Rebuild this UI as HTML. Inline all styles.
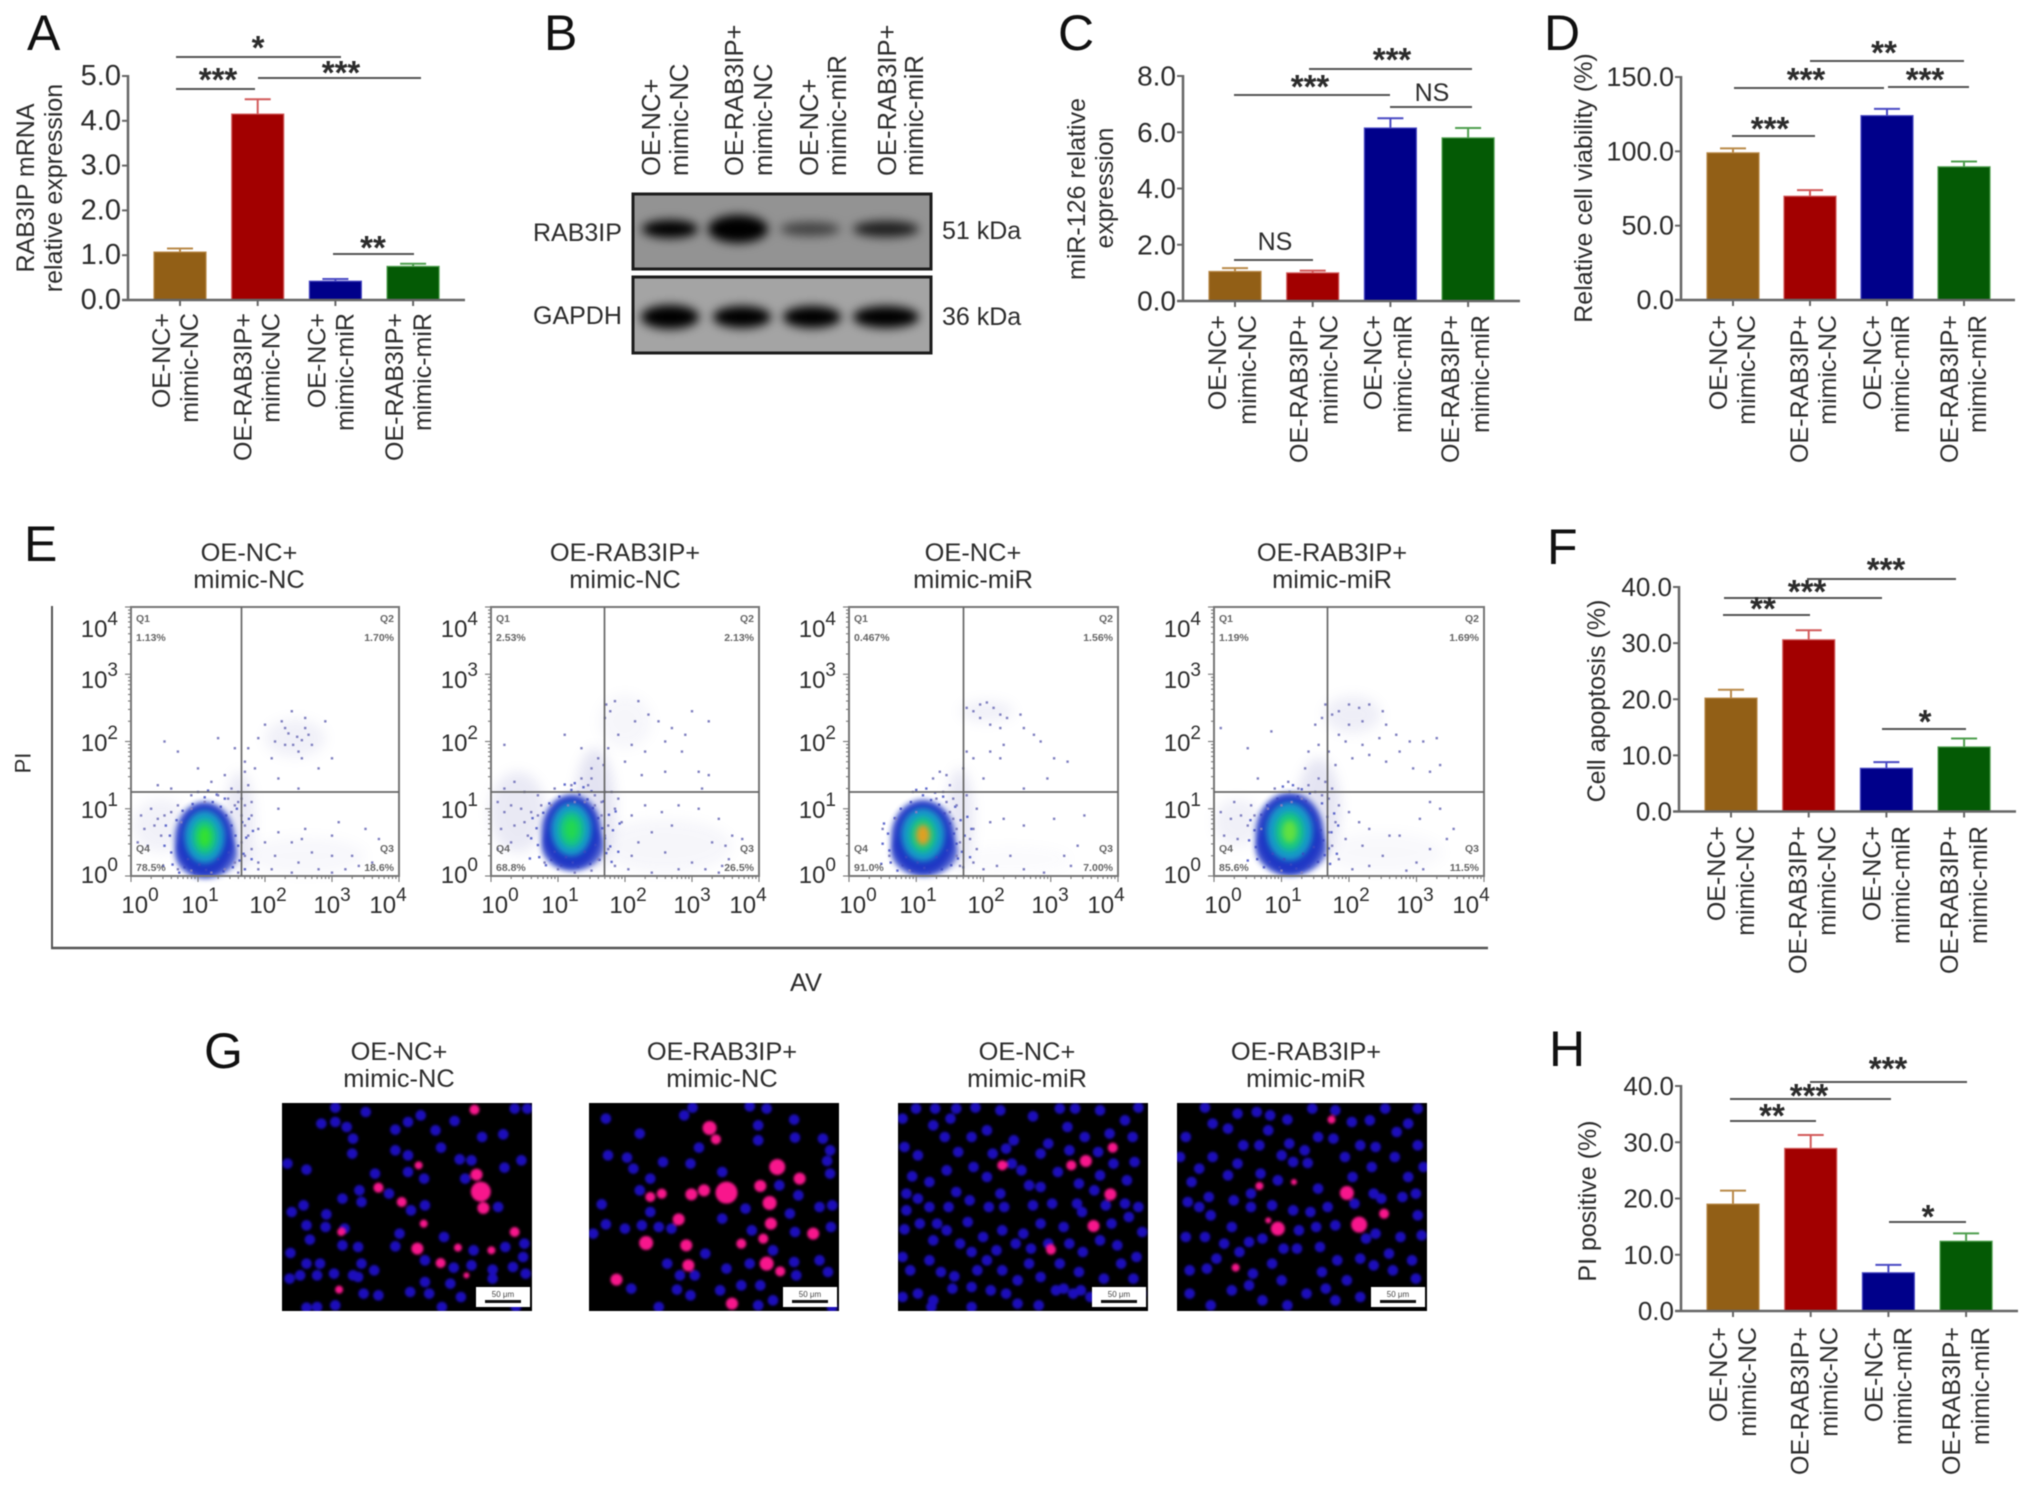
<!DOCTYPE html>
<html lang="en">
<head>
<meta charset="utf-8">
<title>RAB3IP and miR-126 multi-panel figure</title>
<style>
html,body{margin:0;padding:0;background:#fff}
svg{display:block;filter:blur(0.6px)}
text{font-family:"Liberation Sans",Arial,sans-serif;fill:#2c2c2c}
.letter{font-size:50px;fill:#111}
.lab{font-size:25px}
.lane{font-size:25.6px}
.ttl{font-size:25.4px;text-anchor:middle;dominant-baseline:central}
.rot{font-size:25px;text-anchor:middle;dominant-baseline:central}
</style>
</head>
<body>
<svg id="fig" xmlns="http://www.w3.org/2000/svg" width="2032" height="1487" viewBox="0 0 2032 1487">
<defs>
<filter id="b1" x="-30%" y="-30%" width="160%" height="160%"><feGaussianBlur stdDeviation="1.3"/></filter>
<filter id="b5" x="-40%" y="-100%" width="180%" height="300%"><feGaussianBlur stdDeviation="5"/></filter>
<filter id="b3" x="-50%" y="-50%" width="200%" height="200%"><feGaussianBlur stdDeviation="3"/></filter>
<filter id="b6" x="-60%" y="-60%" width="220%" height="220%"><feGaussianBlur stdDeviation="6"/></filter>
</defs>
<rect width="2032" height="1487" fill="#fff"/>

<text class="letter" x="27" y="50">A</text>
<text class="letter" x="544" y="50">B</text>
<text class="letter" x="1058" y="50">C</text>
<text class="letter" x="1544" y="50">D</text>
<text class="letter" x="24" y="561">E</text>
<text class="letter" x="1547" y="564">F</text>
<text class="letter" x="204" y="1068">G</text>
<text class="letter" x="1549" y="1066">H</text>

<g>
<text class="rot" transform="translate(26,188) rotate(-90)">RAB3IP mRNA</text>
<text class="rot" transform="translate(54,188) rotate(-90)">relative expression</text>
<text class="rot" transform="translate(1077,189) rotate(-90)">miR-126 relative</text>
<text class="rot" transform="translate(1105,188) rotate(-90)">expression</text>
<text class="rot" transform="translate(1584,188) rotate(-90)">Relative cell viability (%)</text>
<text class="rot" transform="translate(1597,701) rotate(-90)">Cell apoptosis (%)</text>
<text class="rot" transform="translate(1588,1201) rotate(-90)">PI positive (%)</text>
</g>

<g>
<rect x="633" y="194" width="298" height="75" fill="#939393" stroke="#1c1c1c" stroke-width="3"/>
<rect x="633" y="277" width="298" height="76" fill="#a4a4a4" stroke="#1c1c1c" stroke-width="3"/>
<g fill="#050505" filter="url(#b5)">
<ellipse cx="670" cy="229" rx="28" ry="9"/>
<ellipse cx="738" cy="229" rx="30" ry="14"/>
<ellipse cx="810" cy="229" rx="30" ry="7" opacity=".55"/>
<ellipse cx="886" cy="229" rx="33" ry="8" opacity=".8"/>
<ellipse cx="670" cy="317" rx="29" ry="12"/>
<ellipse cx="742" cy="317" rx="29" ry="11"/>
<ellipse cx="812" cy="317" rx="29" ry="11"/>
<ellipse cx="886" cy="317" rx="33" ry="11"/>
</g>
<text class="lab" x="533" y="241">RAB3IP</text>
<text class="lab" x="533" y="324">GAPDH</text>
<text class="lab" x="942" y="239">51 kDa</text>
<text class="lab" x="942" y="325">36 kDa</text>
<g>
<text class="lane" transform="translate(660,176) rotate(-90)">OE-NC+</text>
<text class="lane" transform="translate(688,176) rotate(-90)">mimic-NC</text>
<text class="lane" transform="translate(743,176) rotate(-90)">OE-RAB3IP+</text>
<text class="lane" transform="translate(772,176) rotate(-90)">mimic-NC</text>
<text class="lane" transform="translate(818,176) rotate(-90)">OE-NC+</text>
<text class="lane" transform="translate(846,176) rotate(-90)">mimic-miR</text>
<text class="lane" transform="translate(896,176) rotate(-90)">OE-RAB3IP+</text>
<text class="lane" transform="translate(923,176) rotate(-90)">mimic-miR</text>
</g>
</g>

<g>
<text class="ttl" x="249" y="553">OE-NC+</text>
<text class="ttl" x="249" y="580">mimic-NC</text>
<text class="ttl" x="625" y="553">OE-RAB3IP+</text>
<text class="ttl" x="625" y="580">mimic-NC</text>
<text class="ttl" x="973" y="553">OE-NC+</text>
<text class="ttl" x="973" y="580">mimic-miR</text>
<text class="ttl" x="1332" y="553">OE-RAB3IP+</text>
<text class="ttl" x="1332" y="580">mimic-miR</text>
</g>
<g>
<line x1="52" y1="606" x2="52" y2="948" stroke="#555" stroke-width="2"/>
<line x1="51" y1="948" x2="1488" y2="948" stroke="#555" stroke-width="2.5"/>
<text transform="translate(23,763) rotate(-90)" class="ttl" style="font-size:22px">PI</text>
<text class="ttl" x="806" y="983">AV</text>
</g>

<g>
<text class="ttl" x="399" y="1052">OE-NC+</text>
<text class="ttl" x="399" y="1079">mimic-NC</text>
<text class="ttl" x="722" y="1052">OE-RAB3IP+</text>
<text class="ttl" x="722" y="1079">mimic-NC</text>
<text class="ttl" x="1027" y="1052">OE-NC+</text>
<text class="ttl" x="1027" y="1079">mimic-miR</text>
<text class="ttl" x="1306" y="1052">OE-RAB3IP+</text>
<text class="ttl" x="1306" y="1079">mimic-miR</text>
</g>
</svg>

<script>
/* ---------- bar chart data ---------- */
const categories = [["OE-NC+","mimic-NC"],["OE-RAB3IP+","mimic-NC"],["OE-NC+","mimic-miR"],["OE-RAB3IP+","mimic-miR"]];
const aValues = [1.07,4.15,0.42,0.75];
const aErrors = [0.08,0.33,0.05,0.06];
const aTicks = ["0.0","1.0","2.0","3.0","4.0","5.0"];
const cValues = [1.05,1.0,6.15,5.8];
const cErrors = [0.12,0.08,0.35,0.35];
const cTicks = ["0.0","2.0","4.0","6.0","8.0"];
const dValues = [99,69.8,124,89.6];
const dErrors = [3,4.1,4.6,3.6];
const dTicks = ["0.0","50.0","100.0","150.0"];
const fValues = [20.2,30.6,7.7,11.5];
const fErrors = [1.5,1.7,1.1,1.5];
const fTicks = ["0.0","10.0","20.0","30.0","40.0"];
const hValues = [19,28.9,6.8,12.4];
const hErrors = [2.4,2.4,1.4,1.4];
const hTicks = ["0.0","10.0","20.0","30.0","40.0"];
const barFills = ["#925f16","#a20000","#00008a","#045a05"];
const barEdges = ["#b98a4a","#d25a5a","#4a4ac4","#4f9f4f"];

/* ---------- flow cytometry data: quadrant percentages and events in log10 units ---------- */
const flowPercents = [
  ["1.13%","1.70%","18.6%","78.5%"],
  ["2.53%","2.13%","26.5%","68.8%"],
  ["0.467%","1.56%","7.00%","91.0%"],
  ["1.19%","1.69%","11.5%","85.6%"]
];
const flowDecades = ["0","1","2","3","4"];
const flowBlobs = [[1.1,0.55,0.44,0.5],[1.2,0.66,0.44,0.5],[1.1,0.58,0.47,0.5],[1.12,0.63,0.5,0.55]];
const flowCoreColors = ["#30e030","#20d850","#e0a020","#60e040"];
const flowHalos = [
  [[1.62,0.8,0.22,0.75,0.18],[0.45,0.75,0.42,0.4,0.11],[2.45,2.05,0.45,0.28,0.12],[2.6,0.3,0.9,0.28,0.06]],
  [[1.55,1.0,0.3,0.9,0.23],[0.4,0.95,0.42,0.6,0.18],[2.0,2.3,0.4,0.4,0.07],[2.6,0.45,1.0,0.4,0.07]],
  [[1.65,0.85,0.2,0.75,0.2],[2.05,2.45,0.4,0.16,0.12],[2.4,0.25,0.9,0.2,0.03]],
  [[1.55,1.0,0.32,0.75,0.22],[0.35,0.8,0.35,0.35,0.12],[2.05,2.4,0.42,0.28,0.14],[2.5,0.35,0.9,0.3,0.05]]
];
const flowSpeckle = [[-0.52,0.05],[-0.5,-0.2],[-0.48,-0.38],[-0.42,0.28],[-0.38,-0.5],[-0.33,0.42],[-0.3,-0.42],[-0.25,-0.3],[-0.18,0.52],[-0.15,-0.5],[-0.08,-0.38],[0,0.62],[0.02,-0.46],[0.1,-0.52],[0.12,0.55],[0.2,-0.3],[0.24,0.48],[0.28,-0.48],[0.32,0.35],[0.36,-0.2],[0.4,0.2],[0.42,-0.42],[0.46,0.05],[0.5,-0.1],[0.52,-0.32],[0.56,0.25],[0.6,-0.45],[0.62,0.02],[0.66,0.3],[-0.6,-0.1],[-0.62,-0.4],[-0.58,0.2],[0.05,0.72],[-0.1,0.7],[0.18,0.66],[0.3,0.6],[0.48,0.45],[0.58,-0.22],[0.7,-0.3],[0.72,0.12]];
const flowEvents1 = [[2.48,2.07],[2.3,2.2],[2,2.25],[2.6,2.2],[2.7,1.95],[2.5,1.85],[2.3,1.95],[2.15,2],[1.9,2.05],[1.75,1.9],[2.65,2.1],[2.9,2.3],[2.6,2.35],[2.25,2.3],[2.4,2.45],[2.55,1.75],[2.1,1.75],[1.85,1.6],[1.7,1.55],[1.7,1.7],[1.55,1.9],[1.3,2.05],[1,1.6],[0.7,1.85],[0.5,2],[1.2,1.4],[1.4,1.5],[1.5,1.3],[1.6,1.25],[1.75,1.35],[1.45,1.15],[1.3,1.2],[1.1,1.1],[0.9,1.2],[0.6,1.3],[0.4,1.35],[2.8,1.6],[3,1.75],[2.2,1.45],[2.5,1.3],[1.6,1.1],[1.7,1.05],[1.5,0.95],[1.8,1.1],[2.2,1],[0.15,0.9],[0.3,1],[0.2,0.7],[0.35,0.75],[0.5,0.9],[0.6,0.95],[0.45,0.6],[0.1,0.5],[0.25,0.45],[0.7,1.05],[0.9,1],[0.75,0.8],[0.4,0.85],[1.8,0.9],[1.9,0.7],[2,0.5],[2.2,0.65],[2.4,0.5],[2.15,0.3],[2.5,0.2],[2.7,0.35],[3,0.6],[3.1,0.8],[3.5,0.7],[3.7,0.55],[3.3,0.3],[2.8,0.1],[3,0.05],[3.2,0.1],[2.4,0.05],[2.1,0.1],[1.9,0.2],[1.8,0.4],[1.75,0.6],[1.9,0.1],[2.6,0.7],[3.6,0.2],[3.4,0.15],[3,0.3],[2.55,0.55],[1.65,0.9],[1.7,0.75],[1.65,0.5],[1.7,0.3],[1.55,0.2],[1.6,0.05],[1.4,0.1],[1.2,0.05],[0.9,0.08],[0.7,0.1],[2.35,2.12],[2.55,2.02],[2.42,1.95],[1.65,1.15],[1.55,1.05]];
const flowEvents2 = [[1.72,2.55],[1.78,2.45],[1.7,2.35],[1.85,2.6],[2.2,2.6],[2.35,2.4],[2.5,2.3],[2.15,2.3],[1.9,2.1],[2.1,1.95],[2.3,1.85],[2.6,2],[2.7,2.2],[2.9,2.1],[3,2.45],[3.25,2.3],[2.85,1.85],[3.1,1.55],[3.25,1.5],[3.15,1.3],[2.6,1.55],[2.25,1.5],[2,1.7],[1.75,1.9],[1.6,1.75],[1.5,1.6],[1.35,1.9],[1.1,2.1],[0.2,1.95],[0.35,1.4],[0.2,1.3],[0.5,1.25],[0.7,1.2],[0.95,1.3],[1.2,1.35],[1.3,1.25],[1.45,1.35],[1.4,1.1],[1.55,1.2],[1.65,1.1],[1.7,1.25],[1.35,1.45],[1.5,1.45],[0.1,1.1],[0.2,0.95],[0.3,1.05],[0.45,1],[0.6,0.95],[0.15,0.7],[0.35,0.75],[0.5,0.8],[0.7,0.9],[0.3,0.5],[0.1,0.4],[0.55,0.6],[1.85,1],[1.95,0.8],[2.1,0.9],[2.3,1.05],[2.55,0.95],[2.8,1.05],[3.1,1],[3.4,0.85],[3.6,0.6],[3.75,0.55],[3.5,0.45],[2.2,0.5],[2.4,0.65],[2.1,0.3],[2.6,0.35],[3,0.2],[3.2,0.1],[3.4,0.05],[3.45,0.15],[3.55,0.25],[2.8,0.1],[2.4,0.05],[2.05,0.1],[1.85,0.15],[1.75,0.4],[1.7,0.6],[1.75,0.75],[1.65,0.9],[1.6,0.25],[1.5,0.08],[1.25,0.05],[1,0.1],[0.8,0.2],[2.7,0.75],[3.3,0.5],[1.8,1.25],[1.9,1.15],[1.55,1.05],[1.25,1.1],[1.15,1.05],[0.9,1.05],[0.75,1.05],[1.68,1.65]];
const flowEvents3 = [[0.95,1.25],[1.25,1.45],[1.35,1.55],[1.45,1.5],[1.5,1.35],[1.4,1.25],[1.3,1.15],[1.45,1.1],[1.55,1.15],[1.6,1.05],[1.5,0.95],[1.55,0.85],[1.6,0.7],[1.65,0.5],[1.6,0.3],[1.65,0.15],[1.75,2.5],[1.85,2.45],[1.95,2.55],[2.05,2.58],[2.15,2.5],[2.25,2.4],[2.35,2.35],[1.95,2.35],[2.1,2.25],[2.25,2.2],[2.55,2.4],[2.6,2.2],[2.75,2.1],[2.85,2],[3.05,1.75],[3.25,1.7],[2.3,1.95],[2.1,1.85],[1.75,1.85],[1.85,1.75],[1.7,1.6],[2.0,1.45],[2.25,1.75],[2.95,1.45],[2.6,1.3],[1.75,1.2],[1.9,1.0],[2.1,0.8],[2.3,0.85],[2.6,0.75],[3.05,0.85],[3.5,0.9],[3.4,0.45],[3.2,0.3],[3.3,0.15],[2.9,0.05],[2.6,0.1],[2.2,0.15],[2.0,0.1],[1.85,0.2],[1.8,0.55],[1.85,0.7],[1.9,0.4],[2.4,0.3],[0.9,0.08],[0.6,0.3],[0.5,0.7],[0.7,0.85],[1.0,0.95]];
const flowEvents4 = [[1.65,2.55],[1.75,2.4],[1.6,2.35],[1.5,2.25],[1.85,2.45],[2,2.55],[2.15,2.5],[2.3,2.55],[2.5,2.45],[2.55,2.25],[2.7,2.1],[2.2,2.3],[2,2.25],[1.85,2.1],[1.95,2],[2.2,1.95],[2.45,2.05],[2.75,1.85],[2.9,2],[3.1,2],[3.3,2.05],[3.35,1.65],[3.2,1.55],[2.95,1.6],[2.55,1.7],[2.3,1.8],[2.05,1.75],[1.8,1.65],[1.7,1.85],[1.55,1.95],[1.4,1.85],[1.35,1.6],[0.1,2.2],[0.5,1.9],[0.85,2.15],[0.65,1.45],[0.9,1.3],[1.1,1.4],[1.25,1.3],[1.4,1.35],[1.5,1.25],[1.6,1.2],[1.7,1.15],[1.3,1.15],[1.15,1.1],[1.0,1.05],[0.8,1.0],[0.55,1.05],[0.3,1.1],[0.1,0.95],[0.25,0.85],[0.4,0.9],[0.6,0.9],[0.15,0.6],[0.35,0.55],[0.5,0.75],[0.7,0.7],[1.85,1.05],[2,0.95],[2.15,0.8],[2.3,0.7],[2.6,0.6],[3.05,0.85],[3.2,1.1],[3.35,1.0],[3.55,0.7],[3.45,0.55],[3.2,0.4],[3,0.2],[3.1,0.1],[2.85,0.08],[2.5,0.3],[2.3,0.15],[2.05,0.1],[1.85,0.25],[1.75,0.45],[1.7,0.65],[1.8,0.8],[2.2,0.45],[1.95,0.55],[1.3,0.05],[1,0.08],[2.75,0.6],[1.55,1.45],[1.65,1.4],[1.75,1.3]];
const flowEventSets = [flowEvents1,flowEvents2,flowEvents3,flowEvents4];

/* ---------- micrograph cell positions ---------- */
const nuclei1 = [[318,232],[390,245],[285,280],[318,275],[345,290],[490,275],[520,255],[460,298],[555,300],[600,272],[742,235],[772,235],[665,320],[715,312],[360,325],[358,370],[460,360],[490,375],[568,352],[205,400],[250,418],[612,387],[640,390],[718,412],[758,390],[412,430],[490,425],[528,445],[625,445],[375,480],[335,505],[380,515],[445,490],[530,525],[497,540],[703,530],[243,525],[215,545],[297,552],[250,585],[295,590],[340,595],[258,628],[335,645],[372,650],[460,648],[575,620],[645,660],[720,650],[765,640],[212,668],[282,700],[250,700],[210,745],[235,735],[275,735],[315,730],[360,735],[380,700],[410,720],[530,690],[598,712],[640,705],[690,718],[738,710],[762,680],[768,730],[690,745],[530,755],[590,760],[385,790],[420,795],[495,785],[540,790],[615,800],[275,830],[318,825],[250,832],[570,830],[745,830],[470,610],[372,740]];
const red1 = [[647,238,5],[652,433,6],[662,484,10],[668,533,6],[515,405,4],[420,472,5],[475,515,5],[527,580,4],[332,605,4],[512,655,6],[608,652,4],[687,660,4],[742,605,5],[567,698,5],[628,735,3],[327,778,4]];
const nuclei2 = [[965,265],[1045,310],[1150,255],[1170,232],[1305,228],[1345,235],[1410,268],[1325,285],[1325,330],[1412,322],[1478,325],[1495,360],[970,375],[1015,382],[1030,415],[1100,395],[1185,352],[1165,400],[1240,425],[1070,445],[1045,480],[1495,430],[1488,392],[1375,465],[1420,495],[955,522],[1070,545],[1500,525],[1470,530],[1295,535],[1400,550],[1240,565],[965,582],[1010,595],[1050,585],[1090,590],[1120,595],[1310,600],[1412,605],[935,610],[1497,590],[1360,660],[1110,700],[1200,670],[1305,700],[1250,715],[1410,695],[1470,690],[1140,735],[1175,735],[1415,735],[1490,725],[1285,765],[1330,765],[1133,778],[1165,795],[1025,775],[1235,780],[1090,830],[1325,825],[1360,810],[1500,832]];
const red2 = [[1210,293,7],[1225,327,5],[1370,410,8],[1423,445,6],[1330,467,6],[1097,490,5],[1070,500,5],[1167,492,6],[1197,480,6],[1250,487,11],[1352,518,7],[1137,567,6],[1355,580,6],[1337,625,5],[1285,640,5],[1455,610,6],[1060,638,7],[1155,645,6],[1345,700,7],[1377,723,5],[1160,705,6],[990,748,6],[1263,820,6]];
const nuclei3 = [[110,265],[145,235],[195,235],[250,235],[300,232],[365,240],[450,258],[520,235],[560,235],[625,240],[690,270],[725,232],[190,285],[235,265],[290,320],[400,330],[380,355],[470,370],[115,350],[150,375],[255,365],[490,340],[540,290],[585,320],[650,310],[710,320],[620,365],[715,395],[135,438],[180,455],[120,490],[150,505],[250,485],[365,490],[440,465],[515,425],[420,420],[570,460],[610,480],[625,435],[695,450],[725,530],[690,520],[335,530],[375,530],[450,525],[500,520],[578,545],[640,525],[155,580],[115,597],[280,575],[370,600],[425,610],[470,580],[530,590],[655,580],[700,560],[735,605],[190,630],[260,640],[290,665],[405,640],[445,655],[625,630],[670,645],[180,690],[110,680],[210,725],[245,738],[305,720],[330,690],[370,720],[410,750],[520,700],[570,725],[635,745],[680,700],[712,745],[720,680],[240,775],[150,790],[110,800],[190,810],[340,780],[380,790],[465,825],[510,780],[530,775],[555,790],[640,800],[290,830],[185,830],[410,820],[220,320],[330,300],[345,370],[295,410],[225,420],[330,440],[395,400],[180,530],[230,530],[285,510],[545,360],[660,400],[565,520],[320,620],[490,640],[200,580],[580,665],[545,640],[130,720],[440,700],[290,770],[575,780],[690,790],[470,470],[225,600],[120,540],[355,660],[470,740],[600,800],[730,790]];
const red3 = [[370,405,5],[550,405,5],[588,392,6],[658,352,5],[652,492,6],[608,587,6],[497,658,5]];
const nuclei4 = [[900,232],[1035,245],[1115,268],[1180,235],[1283,275],[1370,235],[1455,235],[920,280],[960,295],[1065,300],[1120,340],[1042,345],[1195,320],[1235,325],[1305,345],[1345,350],[1400,305],[1455,345],[835,380],[985,400],[885,415],[1100,375],[1130,395],[1168,398],[1045,430],[1335,410],[960,435],[865,455],[910,500],[1020,490],[1075,525],[1220,530],[1285,440],[1430,440],[1415,500],[1360,505],[855,515],[885,530],[915,555],[1020,530],[970,590],[1145,600],[1190,590],[1240,585],[1345,610],[1410,620],[1455,555],[1340,490],[1015,635],[1050,625],[1105,655],[1140,655],[1320,625],[1465,615],[930,685],[860,720],[905,715],[1075,700],[1025,730],[990,665],[1205,725],[1245,690],[1305,685],[1380,670],[1340,705],[1440,690],[1450,745],[970,780],[1015,765],[1215,775],[1270,750],[1305,800],[915,825],[1115,825],[1240,810],[985,250],[1070,255],[1240,240],[1330,270],[1430,280],[850,320],[1000,345],[1160,360],[1265,380],[1395,380],[1470,410],[920,380],[1090,450],[1195,475],[1130,540],[1175,545],[975,510],[1290,520],[1450,490],[850,620],[900,620],[950,640],[1200,650],[1390,720],[1100,750],[1165,790],[1370,790],[860,790],[1050,810],[1450,800]];
const red4 = [[1230,268,4],[1042,467,4],[1132,455,3],[1270,488,7],[1367,550,5],[1090,595,7],[1302,583,8],[1065,570,3],[980,712,4]];

/* ---------- helpers ---------- */
const NS = "http://www.w3.org/2000/svg";
const fig = document.getElementById("fig");
function make(tag, attrs, parent) {
  const el = document.createElementNS(NS, tag);
  for (const k in attrs) { el.setAttribute(k, attrs[k]); }
  (parent || fig).appendChild(el);
  return el;
}

/* ---------- bar panels ---------- */
function drawBarPanel(p, values, errors, ticks) {
  const g = make("g", {});
  
  
  const yMax = parseFloat(ticks[ticks.length - 1]);
  const yScale = v => p.y0 - (v / yMax) * (p.y0 - p.yTop);
  const xScale = i => p.xFirst + i * p.step;

  ticks.forEach(t => {
    const y = yScale(parseFloat(t));
    const tick = make("line", {x1:p.x0 - 6, x2:p.x0, y1:y, y2:y, stroke:"#666", "stroke-width":2}, g);
    
    
    const label = make("text", {x:p.x0 - 7, y:y, "text-anchor":"end", "dominant-baseline":"central", style:"font-size:" + p.tickSize + "px"}, g);
    label.textContent = t;
    
    
  });

  values.forEach((v, i) => {
    const cx = xScale(i);
    const top = yScale(v);
    const errTop = yScale(v + errors[i]);
    const stem = make("line", {x1:cx, x2:cx, y1:top, y2:errTop, stroke:barEdges[i], "stroke-width":2}, g);
    
    
    const cap = make("line", {x1:cx - 13, x2:cx + 13, y1:errTop, y2:errTop, stroke:barEdges[i], "stroke-width":2}, g);
    
    
    const bar = make("rect", {x:cx - 26, y:top, width:52, height:p.y0 - top, fill:barFills[i], stroke:barEdges[i], "stroke-width":1.2}, g);
    
    
    const xt = make("line", {x1:cx, x2:cx, y1:p.y0, y2:p.y0 + 6, stroke:"#666", "stroke-width":2}, g);
    
    
    const nudge = i === 1 ? 4 : 0;
    categories[i].forEach((line, j) => {
      const bx = cx + (j === 0 ? p.dx1 : p.dx2) + nudge;
      const lab = make("text", {transform:"translate(" + bx + "," + p.labelTop + ") rotate(-90)", "text-anchor":"end", style:"font-size:25px"}, g);
      lab.textContent = line;
      
      
    });
  });

  const yAxis = make("line", {x1:p.x0, x2:p.x0, y1:p.yTop - 1, y2:p.y0 + 1, stroke:"#666", "stroke-width":2.5}, g);
  
  
  const xAxis = make("line", {x1:p.x0 - 6, x2:p.xEnd, y1:p.y0, y2:p.y0, stroke:"#666", "stroke-width":2.5}, g);
  
  
  return g;
}

function bracket(g, x1, x2, y, label, lx, ly) {
  const line = make("line", {x1:x1, x2:x2, y1:y, y2:y, stroke:"#555", "stroke-width":2}, g);
  
  
  const isNS = label === "NS";
  const t = make("text", {x:lx, y:isNS ? ly + 9 : ly + 16, "text-anchor":"middle", style:isNS ? "font-size:25px" : "font-size:33px;font-weight:bold"}, g);
  t.textContent = label;
  
  
}

const gA = drawBarPanel({name:"bar-chart-a",x0:128,y0:300,yTop:76,xEnd:465,xFirst:180,step:77.7,tickSize:29,dx1:-10,dx2:18,labelTop:313}, aValues, aErrors, aTicks);
bracket(gA,176,341,57,"*",258,43);
bracket(gA,176,255,89,"***",218,75);
bracket(gA,258,421,78,"***",341,68);
bracket(gA,333,414,254,"**",373,243);

const gC = drawBarPanel({name:"bar-chart-c",x0:1183,y0:301,yTop:76,xEnd:1520,xFirst:1235,step:77.7,tickSize:28,dx1:-9,dx2:21,labelTop:315}, cValues, cErrors, cTicks);
bracket(gC,1309,1472,69,"***",1392,55);
bracket(gC,1234,1390,95,"***",1310,82);
bracket(gC,1390,1472,107,"NS",1432,92);
bracket(gC,1234,1313,260,"NS",1275,241);

const gD = drawBarPanel({name:"bar-chart-d",x0:1681,y0:300,yTop:77,xEnd:2015,xFirst:1733,step:77,tickSize:27,dx1:-6,dx2:22,labelTop:315}, dValues, dErrors, dTicks);
bracket(gD,1810,1964,61,"**",1884,48);
bracket(gD,1734,1884,88,"***",1806,75);
bracket(gD,1888,1969,87,"***",1925,75);
bracket(gD,1732,1815,136,"***",1770,124);

const gF = drawBarPanel({name:"bar-chart-f",x0:1679,y0:811.5,yTop:587,xEnd:2016,xFirst:1731,step:77.7,tickSize:26,dx1:-6,dx2:23,labelTop:826}, fValues, fErrors, fTicks);
bracket(gF,1807,1956,579,"***",1886,565);
bracket(gF,1724,1882,598,"***",1807,587);
bracket(gF,1723,1810,615,"**",1763,604);
bracket(gF,1882,1966,729,"*",1925,717);

const gH = drawBarPanel({name:"bar-chart-h",x0:1681,y0:1311,yTop:1086,xEnd:2018,xFirst:1733,step:77.7,tickSize:26,dx1:-6,dx2:23,labelTop:1327}, hValues, hErrors, hTicks);
bracket(gH,1810,1967,1082,"***",1888,1064);
bracket(gH,1730,1891,1099,"***",1809,1091);
bracket(gH,1730,1816,1121,"**",1772,1111);
bracket(gH,1889,1966,1222,"*",1928,1212);

/* ---------- flow plots ---------- */
const flowLayout = [{left:131,width:268,gate:241.5},{left:491,width:268,gate:604.5},{left:849,width:269,gate:963.5},{left:1214,width:270,gate:1327.5}];
function drawFlow(idx) {
  const L = flowLayout[idx];
  const top = 607, bottom = 876, H = bottom - top;
  const xS = d => L.left + (d / 4) * L.width;
  const yS = d => bottom - (d / 4) * H;
  const g = make("g", {});
  
  

  flowHalos[idx].forEach(h => {
    const halo = make("ellipse", {cx:xS(h[0]), cy:yS(h[1]), rx:(h[2] / 4) * L.width, ry:(h[3] / 4) * H, fill:"#8a8ac8", opacity:h[4], filter:"url(#b6)"}, g);
    
    
  });

  const blob = flowBlobs[idx];
  const skirt = make("ellipse", {cx:xS(blob[0] + 0.02), cy:yS(blob[1] - 0.22), rx:(blob[2] * 1.05 / 4) * L.width, ry:(blob[3] * 0.72 / 4) * H, fill:"#2238c4", opacity:.75, filter:"url(#b3)"}, g);
  
  
  const layers = [[1.0,"#1c34c4",.95,1.1],[.68,"#14a0c8",.95,1.15],[.42,"#12c880",.95,1.25],[.22,flowCoreColors[idx],1,1.4]];
  layers.forEach(l => {
    const e = make("ellipse", {cx:xS(blob[0]), cy:yS(blob[1] + (l[0] < 1 ? 0.03 : 0)), rx:(blob[2] * l[0] / 4) * L.width, ry:(blob[3] * l[0] * l[3] / 4) * H, fill:l[1], opacity:l[2], filter:"url(#b3)"}, g);
    
    
  });

  flowSpeckle.forEach(o => {
    const dx = blob[0] + o[0], dy = Math.max(0.03, blob[1] + o[1]);
    const d = make("rect", {x:xS(dx) - 1.2, y:yS(dy) - 1.2, width:2.4, height:2.4, fill:"#3c48c0", opacity:.8}, g);
    
    
  });
  flowEventSets[idx].forEach(ev => {
    const d = make("rect", {x:xS(ev[0]) - 1.2, y:yS(ev[1]) - 1.2, width:2.4, height:2.4, fill:"#8080c0"}, g);
    
    
  });

  const frame = make("rect", {x:L.left, y:top, width:L.width, height:H, fill:"none", stroke:"#777", "stroke-width":2}, g);
  
  
  const vg = make("line", {x1:L.gate, x2:L.gate, y1:top, y2:bottom, stroke:"#666", "stroke-width":1.7}, g);
  
  
  const hg = make("line", {x1:L.left, x2:L.left + L.width, y1:792, y2:792, stroke:"#666", "stroke-width":1.7}, g);
  
  

  const minors = [0,.301,.477,.602,.699,.778,.845,.903,.954];
  for (let dec = 0; dec < 5; dec++) {
    minors.forEach((m, k) => {
      if (dec === 4 && k > 0) return;
      const len = k === 0 ? 6 : 3;
      const tx = make("line", {x1:xS(dec + m), x2:xS(dec + m), y1:bottom, y2:bottom + len, stroke:"#777", "stroke-width":1.1}, g);
      
      
      const ty = make("line", {x1:L.left - len, x2:L.left, y1:yS(dec + m), y2:yS(dec + m), stroke:"#777", "stroke-width":1.1}, g);
      
      
    });
  }

  const xLabelOffsets = [9,69,137,201,257];
  const yLabelOffsets = [7,-58,-125,-188,-239];
  flowDecades.forEach((exp, i) => {
    const xl = make("text", {x:L.left + xLabelOffsets[i], y:913, "text-anchor":"middle", style:"font-size:24px"}, g);
    
    
    xl.appendChild(document.createTextNode("10"));
    const xs = make("tspan", {dy:-12, style:"font-size:19px"}, xl);
    xs.textContent = exp;
    const yl = make("text", {x:L.left - 13, y:bottom + yLabelOffsets[i], "text-anchor":"end", style:"font-size:24px"}, g);
    
    
    yl.appendChild(document.createTextNode("10"));
    const ys = make("tspan", {dy:-12, style:"font-size:19px"}, yl);
    ys.textContent = exp;
  });

  const qNames = ["Q1","Q2","Q3","Q4"];
  qNames.forEach((q, i) => {
    const right = i === 1 || i === 2;
    const isTop = i < 2;
    const x = right ? L.left + L.width - 5 : L.left + 5;
    const anchor = right ? "end" : "start";
    const t1 = make("text", {x:x, y:isTop ? 622 : 852, "text-anchor":anchor, style:"font-size:10.5px;font-weight:bold;fill:#666"}, g);
    t1.textContent = q;
    
    
    const t2 = make("text", {x:x, y:isTop ? 641 : 871, "text-anchor":anchor, style:"font-size:10.5px;font-weight:bold;fill:#666"}, g);
    t2.textContent = flowPercents[idx][i];
    
    
  });
}
flowLayout.forEach((_, i) => drawFlow(i));

/* ---------- fluorescence micrographs ---------- */
const micro = [
  {x:282,u0:192,su:2.364,blue:nuclei1,red:red1},
  {x:589,u0:925,su:2.364,blue:nuclei2,red:red2},
  {x:898,u0:98,su:2.608,blue:nuclei3,red:red3},
  {x:1177,u0:827,su:2.608,blue:nuclei4,red:red4}
];
const microTop = 1103, microW = 250, microH = 208;
micro.forEach((m, idx) => {
  const g = make("g", {});
  
  
  const clip = make("clipPath", {id:"mc" + idx}, g);
  make("rect", {x:m.x, y:microTop, width:microW, height:microH}, clip);
  const bg = make("rect", {x:m.x, y:microTop, width:microW, height:microH, fill:"#000"}, g);
  
  
  const cells = make("g", {"clip-path":"url(#mc" + idx + ")"}, g);
  const toX = u => m.x + (u - m.u0) / m.su;
  const toY = v => microTop + (v - 218) / 3;
  const blur = make("g", {filter:"url(#b1)"}, cells);
  m.blue.forEach(c => {
    const n = make("circle", {cx:toX(c[0]), cy:toY(c[1]), r:5.3, fill:"#1a10bc"}, blur);
    
    
  });
  m.red.forEach(c => {
    const n = make("circle", {cx:toX(c[0]), cy:toY(c[1]), r:c[2], fill:"#f8158c"}, blur);
    
    
  });
  const sx = m.x + microW - 56, sy = microTop + microH - 24;
  const box = make("rect", {x:sx, y:sy, width:54, height:20, fill:"#fff"}, g);
  
  
  const bar = make("rect", {x:sx + 9, y:sy + 13, width:36, height:3, fill:"#111"}, g);
  
  
  const txt = make("text", {x:sx + 27, y:sy + 10, "text-anchor":"middle", style:"font-size:8px;fill:#444"}, g);
  txt.textContent = "50 μm";
  
  
});
</script>
</body>
</html>
